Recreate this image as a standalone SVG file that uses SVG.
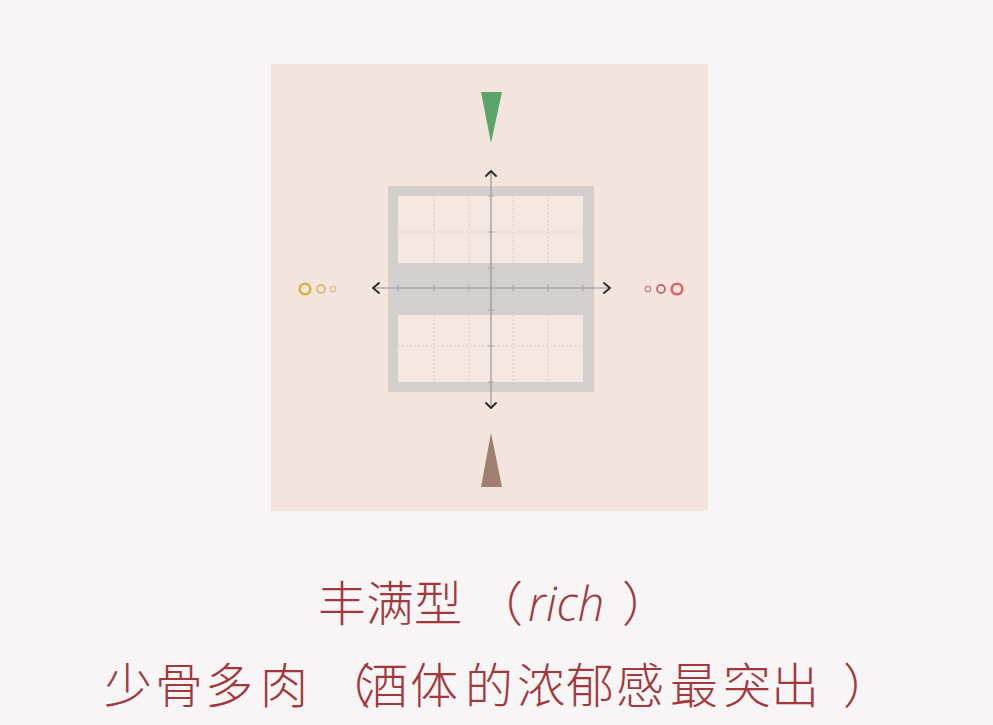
<svg xmlns="http://www.w3.org/2000/svg" width="993" height="725" viewBox="0 0 993 725">
<style>
.grid{stroke:#e0cec8;stroke-width:1;stroke-dasharray:2 2;fill:none}
.axis{stroke:#9a9594;stroke-width:1.2;fill:none}
.tick{stroke:#a9a3a1;stroke-width:1.2}
.chev{stroke:#2a2727;stroke-width:1.8;fill:none;stroke-linecap:round;stroke-linejoin:round}
.ttl{font-family:"Noto Sans CJK SC","Noto Sans",sans-serif;font-size:48px;font-weight:300;fill:#a3373b}
</style>
<rect width="993" height="725" fill="#f7f5f6"/>
<g id="panel">
<rect x="271" y="64" width="437" height="447" fill="#f3e4de"/>
</g>
<g id="frame">
<rect x="388" y="186" width="206" height="206" fill="#d3cfcd"/>
<rect x="398" y="196" width="185" height="67" fill="#f4e6e1"/>
<rect x="398" y="315" width="185" height="67" fill="#f4e6e1"/>
<path class="grid" d="M434 196V263M469 196V263M513 196V263M548 196V263M398 232H583M434 315V382M469 315V382M513 315V382M548 315V382M398 346H583"/>
</g>
<g id="axes">
<path class="axis" d="M374 288H609M491 171V408"/>
<path class="tick" d="M398 285V291M434 285V291M469 285V291M513 285V291M548 285V291M583 285V291M488 196H494M488 232H494M488 268H494M488 310H494M488 346H494M488 382H494"/>
<path class="chev" d="M379 283L373 288L379 293M604 283L610 288L604 293M486 176L491 171L496 176M486 403L491 408L496 403"/>
</g>
<g id="top-marker">
<polygon points="481,92 502,92 491,143" fill="#5ba56b"/>
</g>
<g id="bottom-marker">
<polygon points="491,433 481,487 502,487" fill="#9f7f70"/>
</g>
<g id="left-circles" fill="none">
<circle cx="305" cy="289" r="5.3" stroke="#d6b545" stroke-width="2.6"/>
<circle cx="321" cy="289" r="4" stroke="#d4bd72" stroke-width="1.8"/>
<circle cx="333" cy="289" r="2.7" stroke="#d5c288" stroke-width="1.3"/>
</g>
<g id="right-circles" fill="none">
<circle cx="648" cy="289" r="2.7" stroke="#c0848a" stroke-width="1.3"/>
<circle cx="661" cy="289" r="4" stroke="#c0686f" stroke-width="1.8"/>
<circle cx="677" cy="289" r="5.3" stroke="#de6468" stroke-width="2.6"/>
</g>
<g id="title">
<text class="ttl" x="318" y="621">丰满型<tspan x="475">（</tspan><tspan x="528" font-family="'Open Sans','Noto Sans',sans-serif" font-style="italic" font-size="47">rich</tspan><tspan x="622">）</tspan></text>
<text class="ttl" x="104 155 205 260 323 350 360 410 465 517 566 616 670 723 771 819 843" y="703">少骨多肉（ 酒体的浓郁感最突出 ）</text>
</g>
</svg>
